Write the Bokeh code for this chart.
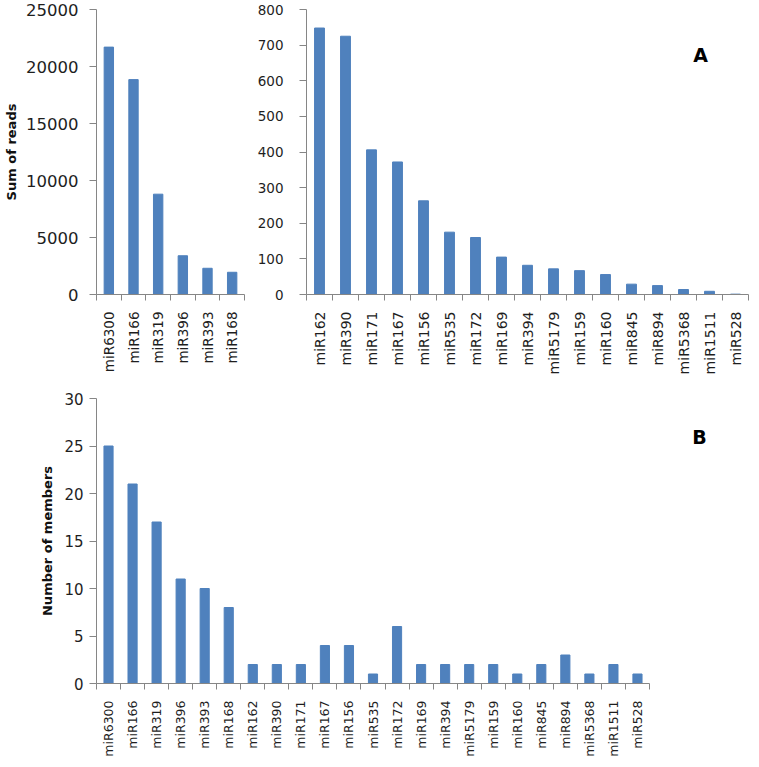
from bokeh.plotting import figure
from bokeh.layouts import column, row
from bokeh.models import Range1d, FixedTicker, SingleIntervalTicker, Label, ColumnDataSource
from bokeh.embed import file_html
from bokeh.resources import INLINE
import math

# ---- data ----
high_names = ["miR6300", "miR166", "miR319", "miR396", "miR393", "miR168"]
high_reads = [21700, 18850, 8800, 3400, 2300, 1950]

low_names = ["miR162", "miR390", "miR171", "miR167", "miR156", "miR535", "miR172",
             "miR169", "miR394", "miR5179", "miR159", "miR160", "miR845", "miR894",
             "miR5368", "miR1511", "miR528"]
low_reads = [748, 725, 406, 372, 263, 175, 160, 105, 82, 72, 67, 56, 29, 25, 14, 9, 1]

all_names = ["miR6300", "miR166", "miR319", "miR396", "miR393", "miR168", "miR162",
             "miR390", "miR171", "miR167", "miR156", "miR535", "miR172", "miR169",
             "miR394", "miR5179", "miR159", "miR160", "miR845", "miR894", "miR5368",
             "miR1511", "miR528"]
members = [25, 21, 17, 11, 10, 8, 2, 2, 2, 4, 4, 1, 6, 2, 2, 2, 2, 1, 2, 3, 1, 2, 1]

reads_ticks_high = (0, 25000, 5000)
reads_ticks_low = (0, 800, 100)
member_ticks = (0, 30, 5)

BAR = "#4F81BD"
AXIS = "#868686"
TXT = "#1e1e1e"
FONT = "DejaVu Sans"


def make(names, vals, yt, width, height, bl, br, bt, bb, tick_fs, cat_fs,
         ylabel=None, ylabel_standoff=8, tick_standoff=10, x_end=None):
    n = len(names)
    xs = list(range(n))
    x_end = (n - 0.5) if x_end is None else x_end
    p = figure(width=width, height=height, output_backend="svg", toolbar_location=None,
               x_range=Range1d(-0.5, x_end), y_range=Range1d(yt[0], yt[1]),
               min_border_left=bl, min_border_right=br, min_border_top=bt,
               min_border_bottom=bb)
    p.outline_line_color = None
    p.xgrid.visible = False
    p.ygrid.visible = False
    p.background_fill_color = "white"
    p.border_fill_color = "white"
    src = ColumnDataSource(dict(x=xs, top=vals))
    p.vbar(x="x", top="top", width=0.38, bottom=0, source=src,
           fill_color=BAR, line_color=BAR)
    # x axis
    xa = p.xaxis[0]
    xa.ticker = FixedTicker(ticks=xs, minor_ticks=[i - 0.5 for i in range(n + 1)])
    xa.major_label_overrides = {i: nm for i, nm in enumerate(names)}
    xa.major_label_orientation = math.pi / 2
    xa.major_tick_out = 0
    xa.major_tick_in = 0
    xa.minor_tick_out = 6
    xa.minor_tick_in = 0
    xa.minor_tick_line_color = AXIS
    xa.axis_line_color = AXIS
    xa.bounds = (-0.5, n - 0.5)
    xa.major_label_text_font = FONT
    xa.major_label_text_font_size = f"{cat_fs}px"
    xa.major_label_text_color = TXT
    xa.major_label_standoff = 11
    # y axis
    ya = p.yaxis[0]
    ya.ticker = SingleIntervalTicker(interval=yt[2], num_minor_ticks=0)
    ya.major_tick_out = 7
    ya.major_tick_in = 0
    ya.minor_tick_out = 0
    ya.minor_tick_in = 0
    ya.major_tick_line_color = AXIS
    ya.axis_line_color = AXIS
    ya.major_label_text_font = FONT
    ya.major_label_text_font_size = f"{tick_fs}px"
    ya.major_label_text_color = TXT
    ya.major_label_standoff = tick_standoff
    if ylabel:
        ya.axis_label = ylabel
        ya.axis_label_text_font = FONT
        ya.axis_label_text_font_style = "bold"
        ya.axis_label_text_font_size = "13px"
        ya.axis_label_text_color = "#111111"
        ya.axis_label_standoff = ylabel_standoff
    return p


p1 = make(high_names, high_reads, reads_ticks_high, 254, 378, 96, 10, 9, 84,
          16.5, 13.5, ylabel="Sum of reads", ylabel_standoff=4, tick_standoff=11)
p2 = make(low_names, low_reads, reads_ticks_low, 495, 378, 46, 1, 9, 84,
          13.5, 14, tick_standoff=16)
cat_px = 553 / 23
p3 = make(all_names, members, member_ticks, 749, 381, 96, 1, 20, 76,
          15, 12.5, ylabel="Number of members", ylabel_standoff=6, tick_standoff=6,
          x_end=-0.5 + 652 / cat_px)

p2.add_layout(Label(x=394, y=240, x_units="screen", y_units="screen", text="A",
                    text_font=FONT, text_font_style="bold", text_font_size="19px",
                    text_align="center", text_baseline="middle", text_color="#000000"))
p3.add_layout(Label(x=603, y=247, x_units="screen", y_units="screen", text="B",
                    text_font=FONT, text_font_style="bold", text_font_size="19px",
                    text_align="center", text_baseline="middle", text_color="#000000"))

layout = column(row(p1, p2), p3)
open("out.html", "w").write(file_html(layout, INLINE))
